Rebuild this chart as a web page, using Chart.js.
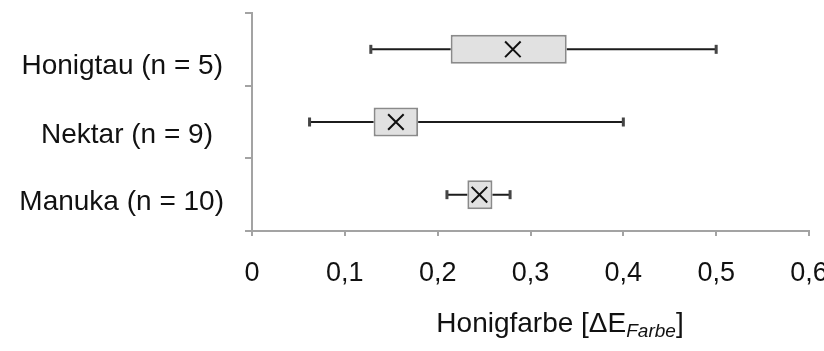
<!DOCTYPE html>
<html>
<head>
<meta charset="utf-8">
<script src="https://cdn.jsdelivr.net/npm/chart.js@4.4.1/dist/chart.umd.min.js"></script>
<style>
  html, body { margin: 0; padding: 0; background: #fff; }
  #wrap { width: 824px; height: 351px; }
</style>
</head>
<body>
<div id="wrap"><canvas id="boxChart"></canvas></div>
<script>
// box plot values
const categories = ['Honigtau (n = 5)', 'Nektar (n = 9)', 'Manuka (n = 10)'];
const minVals = [0.128, 0.062, 0.210];
const q1Vals = [0.214, 0.131, 0.232];
const q3Vals = [0.339, 0.179, 0.259];
const maxVals = [0.500, 0.400, 0.278];
const meanVals = [0.281, 0.155, 0.245];
const xTicks = [0, 0.1, 0.2, 0.3, 0.4, 0.5, 0.6];

const FONT = '"Liberation Sans", Arial, sans-serif';
const AXIS_GREY = '#a3a3a3';
const TEXT = '#111111';

// labels in the original sit a bit off the band centres
const labelShiftY = [17, 13, 8];
const labelShiftX = [0, -10, 1];

const boxExtras = {
    id: 'boxExtras',
    beforeDatasetsDraw(chart) {
        const ctx = chart.ctx;
        const x = chart.scales.x, y = chart.scales.y;
        ctx.save();
        for (let i = 0; i < categories.length; i++) {
            const py = y.getPixelForValue(i);
            const x0 = x.getPixelForValue(minVals[i]);
            const x1 = x.getPixelForValue(q1Vals[i]);
            const x2 = x.getPixelForValue(q3Vals[i]);
            const x3 = x.getPixelForValue(maxVals[i]);
            ctx.strokeStyle = '#1c1c1c';
            ctx.lineWidth = 2;
            ctx.beginPath();
            ctx.moveTo(x0, py); ctx.lineTo(x1, py);
            ctx.moveTo(x2, py); ctx.lineTo(x3, py);
            ctx.stroke();
            // whisker caps
            ctx.fillStyle = '#454545';
            ctx.fillRect(x0 - 1.5, py - 4.5, 3, 9);
            ctx.fillRect(x3 - 1.5, py - 4.5, 3, 9);
        }
        ctx.restore();
    },
    afterDraw(chart) {
        const ctx = chart.ctx;
        const y = chart.scales.y;
        ctx.save();
        ctx.fillStyle = TEXT;
        ctx.font = '28px ' + FONT;
        ctx.textAlign = 'right';
        ctx.textBaseline = 'middle';
        for (let i = 0; i < categories.length; i++) {
            ctx.fillText(categories[i], 223 + labelShiftX[i], y.getPixelForValue(i) + labelShiftY[i]);
        }

        // axis title with subscript
        const partA = 'Honigfarbe [\u0394E';
        const partB = 'Farbe';
        const partC = ']';
        const big = '28px ' + FONT, small = 'italic 19px ' + FONT;
        ctx.textAlign = 'left';
        ctx.textBaseline = 'alphabetic';
        ctx.font = big;
        const wA = ctx.measureText(partA).width, wC = ctx.measureText(partC).width;
        ctx.font = small;
        const wB = ctx.measureText(partB).width;
        let tx = 560 - (wA + wB + wC) / 2;
        const base = 332;
        ctx.font = big; ctx.fillText(partA, tx, base); tx += wA;
        ctx.font = small; ctx.fillText(partB, tx, base + 5); tx += wB;
        ctx.font = big; ctx.fillText(partC, tx, base);
        ctx.restore();
    }
};

new Chart('boxChart', {
    data: {
        labels: categories,
        datasets: [{
            type: 'bar',
            data: q1Vals.map((q, i) => [q, q3Vals[i]]),
            backgroundColor: '#e1e1e1',
            borderColor: '#8a8a8a',
            borderWidth: 2,
            borderSkipped: false,
            categoryPercentage: 1,
            barPercentage: 0.4,
            order: 2
        }, {
            type: 'scatter',
            data: meanVals.map((m, i) => ({x: m, y: categories[i]})),
            pointStyle: 'crossRot',
            pointRadius: 11,
            pointBorderWidth: 2,
            borderColor: '#111',
            backgroundColor: '#111',
            order: 1
        }]
    },
    options: {
        indexAxis: 'y',
        responsive: true,
        maintainAspectRatio: false,
        animation: false,
        layout: { padding: { top: 8, right: 15, left: 0, bottom: 0 } },
        plugins: { legend: { display: false }, tooltip: { enabled: false } },
        scales: {
            x: {
                type: 'linear',
                min: 0,
                max: 0.6,
                afterBuildTicks: s => { s.ticks = xTicks.map(v => ({value: v})); },
                afterFit: s => { s.height = 120; s.paddingLeft = 0; s.paddingRight = 0; },
                border: { color: AXIS_GREY, width: 2 },
                grid: { drawOnChartArea: false, drawTicks: true, tickLength: 5, color: AXIS_GREY, lineWidth: 2 },
                ticks: {
                    color: TEXT,
                    font: { family: FONT, size: 27 },
                    padding: 21,
                    maxRotation: 0,
                    callback: v => v === 0 ? '0' : v.toFixed(1).replace('.', ',')
                }
            },
            y: {
                type: 'category',
                offset: true,
                afterFit: s => { s.width = 252; },
                border: { color: AXIS_GREY, width: 2 },
                grid: { offset: true, drawOnChartArea: false, drawTicks: true, tickLength: 7, color: AXIS_GREY, lineWidth: 2 },
                ticks: { display: false }
            }
        }
    },
    plugins: [boxExtras]
});
</script>
</body>
</html>
